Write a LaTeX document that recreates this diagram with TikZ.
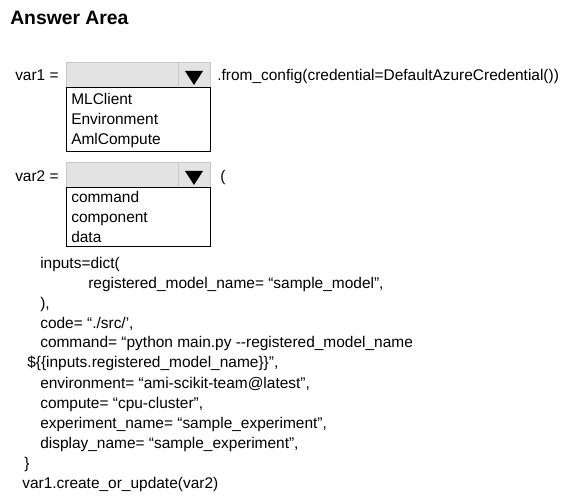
\documentclass[tikz,border=0pt]{standalone}
\usepackage{fontspec}
\setmainfont{Liberation Sans}
\definecolor{ddfill}{HTML}{E3E3E3}
\definecolor{ddline}{HTML}{C8C8C8}
\begin{document}
\begin{tikzpicture}[x=0.75pt,y=-0.75pt,
  txt/.style={anchor=base west,inner sep=0pt,font=\fontsize{11.6}{13}\selectfont},
  ddbox/.style={fill=ddfill,draw=ddline,line width=0.75pt},
  listbox/.style={fill=white,draw=black,line width=0.75pt}]
\useasboundingbox (0,0) rectangle (564,498);
\fill[white] (0,0) rectangle (564,498);
\node[txt,font=\fontsize{14.5}{16}\bfseries] (title) at (10,25) {Answer Area};
% var1
\node[txt] (v1) at (15,81) {var1 =};
\draw[ddbox] (66,63) rectangle (210,88);
\draw[ddline,line width=0.75pt] (178,63) -- (178,88);
\fill[black] (185,71) -- (203,71) -- (194,85) -- cycle;
\draw[listbox] (66,88) rectangle (210,152);
\node[txt] (v1tail) at (217,81) {.from\_config(credential=DefaultAzureCredential())};
\node[txt] (o11) at (71,105) {MLClient};
\node[txt] (o12) at (71,125) {Environment};
\node[txt] (o13) at (71,145) {AmlCompute};
% var2
\node[txt] (v2) at (15,182) {var2 =};
\draw[ddbox] (66,163) rectangle (210,188);
\draw[ddline,line width=0.75pt] (178,163) -- (178,188);
\fill[black] (185,171) -- (203,171) -- (194,185) -- cycle;
\draw[listbox] (66,188) rectangle (210,247);
\node[txt] (v2tail) at (220,182) {(};
\node[txt] (o21) at (71,203) {command};
\node[txt] (o22) at (71,223) {component};
\node[txt] (o23) at (71,243) {data};
% code
\node[txt] (l1) at (40,269) {inputs=dict(};
\node[txt] (l2) at (88,289) {registered\_model\_name= “sample\_model”,};
\node[txt] (l3) at (40,309) {),};
\node[txt] (l4) at (40,329) {code= “./src/’,};
\node[txt] (l5) at (40,348) {command= “python main.py {-}{-}registered\_model\_name};
\node[txt] (l6) at (27,368) {\$\{\{inputs.registered\_model\_name\}\}”,};
\node[txt] (l7) at (40,389) {environment= “ami-scikit-team@latest”,};
\node[txt] (l8) at (40,409) {compute= “cpu-cluster”,};
\node[txt] (l9) at (40,429) {experiment\_name= “sample\_experiment”,};
\node[txt] (l10) at (40,449) {display\_name= “sample\_experiment”,};
\node[txt] (l11) at (24,469) {\}};
\node[txt] (l12) at (22,489) {var1.create\_or\_update(var2)};
\end{tikzpicture}
\end{document}
